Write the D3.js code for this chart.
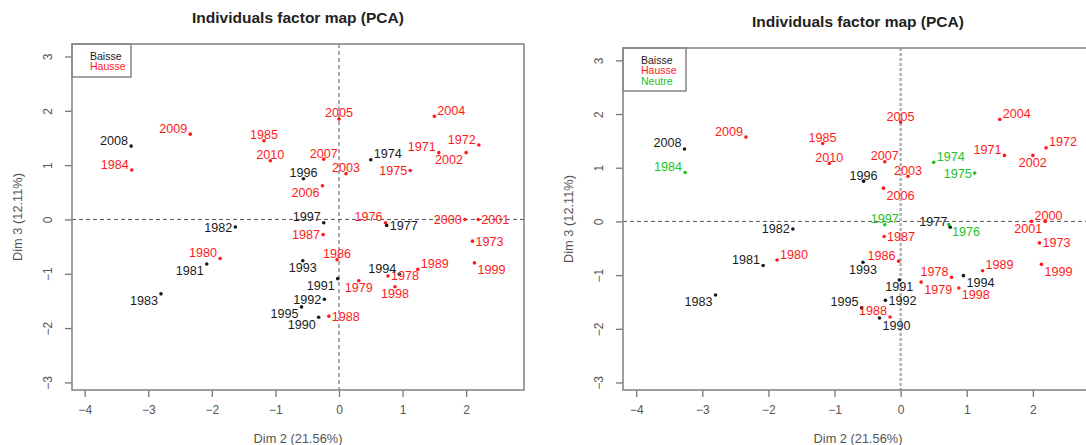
<!DOCTYPE html>
<html>
<head>
<meta charset="utf-8">
<script src="https://cdn.jsdelivr.net/npm/d3@7"></script>
<style>
  html, body { margin: 0; padding: 0; background: #fff; }
  svg { display: block; font-family: "Liberation Sans", Arial, Helvetica, sans-serif; }
</style>
</head>
<body>
<svg id="chart" width="1086" height="445"></svg>
<script>
// PCA individuals, Dim 2 vs Dim 3, one point per year
const years = [1971, 1972, 1973, 1974, 1975, 1976, 1977, 1978, 1979, 1980,
               1981, 1982, 1983, 1984, 1985, 1986, 1987, 1988, 1989, 1990,
               1991, 1992, 1993, 1994, 1995, 1996, 1997, 1998, 1999, 2000,
               2001, 2002, 2003, 2004, 2005, 2006, 2007, 2008, 2009, 2010];

const dim2 = [1.57, 2.20, 2.10, 0.50, 1.12, 0.73, 0.75, 0.77, 0.31, -1.87,
              -2.08, -1.63, -2.80, -3.26, -1.18, -0.03, -0.25, -0.16, 1.24, -0.32,
              -0.02, -0.23, -0.57, 0.95, -0.59, -0.56, -0.24, 0.88, 2.13, 1.98,
              2.19, 2.00, 0.11, 1.50, 0.00, -0.26, -0.24, -3.27, -2.34, -1.08];

const dim3 = [1.23, 1.37, -0.40, 1.10, 0.90, -0.06, -0.11, -1.04, -1.13, -0.72,
              -0.82, -0.14, -1.37, 0.91, 1.45, -0.74, -0.28, -1.78, -0.92, -1.80,
              -1.09, -1.47, -0.76, -1.01, -1.61, 0.75, -0.06, -1.24, -0.80, 0.00,
              0.00, 1.23, 0.84, 1.90, 1.85, 0.62, 1.11, 1.35, 1.57, 1.08];

// Trend classes: two-level and three-level versions
const trendTwo = ["Hausse", "Hausse", "Hausse", "Baisse", "Hausse", "Hausse", "Baisse", "Hausse", "Hausse", "Hausse",
                  "Baisse", "Baisse", "Baisse", "Hausse", "Hausse", "Hausse", "Hausse", "Hausse", "Hausse", "Baisse",
                  "Baisse", "Baisse", "Baisse", "Baisse", "Baisse", "Baisse", "Baisse", "Hausse", "Hausse", "Hausse",
                  "Hausse", "Hausse", "Hausse", "Hausse", "Hausse", "Hausse", "Hausse", "Baisse", "Hausse", "Hausse"];

const trendThree = ["Hausse", "Hausse", "Hausse", "Neutre", "Neutre", "Neutre", "Baisse", "Hausse", "Hausse", "Hausse",
                    "Baisse", "Baisse", "Baisse", "Neutre", "Hausse", "Hausse", "Hausse", "Hausse", "Hausse", "Baisse",
                    "Baisse", "Baisse", "Baisse", "Baisse", "Baisse", "Baisse", "Neutre", "Hausse", "Hausse", "Hausse",
                    "Hausse", "Hausse", "Hausse", "Hausse", "Hausse", "Hausse", "Hausse", "Baisse", "Hausse", "Hausse"];

const legendTwo = ["Baisse", "Hausse"];
const legendThree = ["Baisse", "Hausse", "Neutre"];

const xTicks = [-4, -3, -2, -1, 0, 1, 2];
const yTicks = [-3, -2, -1, 0, 1, 2, 3];
const xDomain = [-4.2, 2.91];
const yDomain = [-3.14, 3.23];

const chartTitle = "Individuals factor map (PCA)";
const xTitle = "Dim 2 (21.56%)";
const yTitle = "Dim 3 (12.11%)";

// ---- layout ----
const palette = { Baisse: "#1a1a1a", Hausse: "#ff1a1a", Neutre: "#22c322" };

// compass position of each year label around its point
const placeLeft = ["nw","nw","e","ne","w","nw","e","e","s","nw",
                   "sw","w","sw","nw","n","n","w","e","ne","sw",
                   "sw","w","s","nw","sw","n","nw","s","se","w",
                   "e","sw","n","ne","n","sw","n","nw","nw","n"];
const placeRight = ["nw","ne","e","ne","w","se","nw","nw","se","ne",
                    "nw","w","sw","nw","n","nw","e","nw","ne","se",
                    "s","e","s","se","nw","n","n","se","se","ne",
                    "sw","s","n","ne","n","se","n","nw","nw","n"];

const panels = [
  { box: { left: 72, right: 524, top: 44, bottom: 390 }, trend: trendTwo, legend: legendTwo,
    place: placeLeft, legendBox: { w: 59, h: 33 }, vDash: "thin" },
  { box: { left: 623, right: 1093, top: 48, bottom: 390 }, trend: trendThree, legend: legendThree,
    place: placeRight, legendBox: { w: 63, h: 43 }, vDash: "wide" }
];

const svg = d3.select("#chart");
const defs = svg.append("defs");

panels.forEach((p, i) => {
  const b = p.box;
  const clipId = "clip" + i;
  defs.append("clipPath").attr("id", clipId)
    .append("rect").attr("x", b.left).attr("y", b.top)
    .attr("width", b.right - b.left).attr("height", b.bottom - b.top);

  const x = d3.scaleLinear().domain(xDomain).range([b.left, b.right]);
  const y = d3.scaleLinear().domain(yDomain).range([b.bottom, b.top]);
  const g = svg.append("g");
  const cx = (b.left + b.right) / 2;
  const cy = (b.top + b.bottom) / 2;

  // title
  g.append("text").attr("x", cx).attr("y", b.top - 26.5)
    .attr("text-anchor", "middle").attr("dominant-baseline", "central")
    .attr("font-size", 15.5).attr("font-weight", "bold").attr("fill", "#222")
    .text(chartTitle);

  // axes
  const xAxis = g.append("g").attr("transform", `translate(0,${b.bottom})`)
    .call(d3.axisBottom(x).tickValues(xTicks).tickSize(7).tickPadding(6).tickFormat(d3.format("d")));
  const yAxis = g.append("g").attr("transform", `translate(${b.left},0)`)
    .call(d3.axisLeft(y).tickValues(yTicks).tickSize(7).tickPadding(6).tickFormat(d3.format("d")));
  [xAxis, yAxis].forEach(a => {
    a.select(".domain").remove();
    a.selectAll(".tick line").attr("stroke", "#777").attr("stroke-width", 1.3);
    a.selectAll(".tick text").attr("fill", "#555").attr("font-size", 12)
      .attr("font-family", "Liberation Sans, Arial, sans-serif");
  });
  xAxis.selectAll(".tick text").attr("dy", null).attr("y", 0)
    .attr("transform", "translate(0,20)").attr("dominant-baseline", "central");
  yAxis.selectAll(".tick text").attr("x", null).attr("dy", null)
    .attr("text-anchor", "middle").attr("dominant-baseline", "central")
    .attr("transform", "translate(-24,0) rotate(-90)");

  // axis titles
  g.append("text").attr("x", cx).attr("y", b.bottom + 48)
    .attr("text-anchor", "middle").attr("dominant-baseline", "central")
    .attr("font-size", 12.8).attr("fill", "#555").text(xTitle);
  g.append("text").attr("transform", `translate(${b.left - 55},${cy}) rotate(-90)`)
    .attr("text-anchor", "middle").attr("dominant-baseline", "central")
    .attr("font-size", 12.8).attr("fill", "#555").text(yTitle);

  // reference lines through the origin
  const plot = g.append("g").attr("clip-path", `url(#${clipId})`);
  plot.append("line").attr("x1", b.left).attr("x2", b.right)
    .attr("y1", y(0)).attr("y2", y(0))
    .attr("stroke", "#555").attr("stroke-width", 1).attr("stroke-dasharray", "4,3");
  if (p.vDash === "thin") {
    plot.append("line").attr("x1", x(0)).attr("x2", x(0))
      .attr("y1", b.top).attr("y2", b.bottom)
      .attr("stroke", "#555").attr("stroke-width", 1).attr("stroke-dasharray", "4,3");
  } else {
    plot.append("line").attr("x1", x(0)).attr("x2", x(0))
      .attr("y1", b.top).attr("y2", b.bottom)
      .attr("stroke", "#b5b5b5").attr("stroke-width", 2.6).attr("stroke-dasharray", "3,2");
  }

  // points and labels
  const rows = years.map((yr, k) => ({ yr, d2: dim2[k], d3: dim3[k], t: p.trend[k], pos: p.place[k] }));
  plot.selectAll("circle.pt").data(rows).join("circle")
    .attr("class", "pt")
    .attr("cx", d => x(d.d2)).attr("cy", d => y(d.d3)).attr("r", 1.8)
    .attr("fill", d => palette[d.t]);

  const gap = 3, up = -5.5, down = 7.5;
  plot.selectAll("text.lab").data(rows).join("text")
    .attr("class", "lab")
    .attr("x", d => {
      const px = x(d.d2);
      if (d.pos.includes("w")) return px - gap;
      if (d.pos.includes("e")) return px + gap;
      return px;
    })
    .attr("y", d => {
      const py = y(d.d3);
      if (d.pos.startsWith("n")) return py + up;
      if (d.pos.startsWith("s")) return py + down;
      return py + 0.5;
    })
    .attr("text-anchor", d => d.pos.includes("w") ? "end" : d.pos.includes("e") ? "start" : "middle")
    .attr("dominant-baseline", "central")
    .attr("font-size", 12.6).attr("fill", d => palette[d.t])
    .text(d => d.yr);

  // legend
  g.append("rect").attr("x", b.left).attr("y", b.top)
    .attr("width", p.legendBox.w).attr("height", p.legendBox.h)
    .attr("fill", "none").attr("stroke", "#666").attr("stroke-width", 1.2);
  g.selectAll("text.leg").data(p.legend).join("text")
    .attr("class", "leg")
    .attr("x", b.left + 18).attr("y", (d, k) => b.top + 12 + k * 10.4)
    .attr("dominant-baseline", "central").attr("font-size", 10.5)
    .attr("fill", d => palette[d]).text(d => d);

  // plot frame
  g.append("rect").attr("x", b.left).attr("y", b.top)
    .attr("width", b.right - b.left).attr("height", b.bottom - b.top)
    .attr("fill", "none").attr("stroke", "#888").attr("stroke-width", 1.6);
});
</script>
</body>
</html>
